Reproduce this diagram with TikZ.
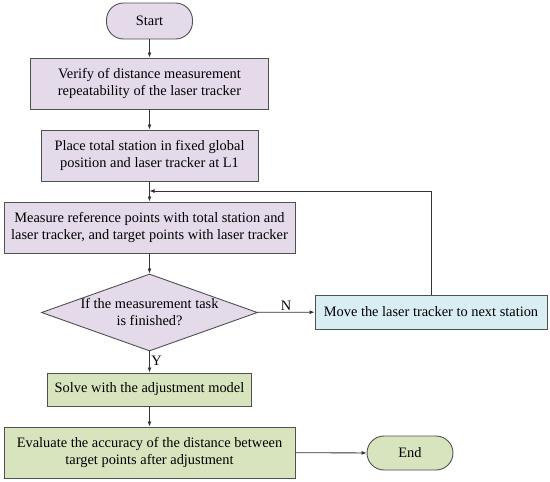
\documentclass[tikz,border=0pt]{standalone}
\usepackage{fontspec}
\setmainfont{Liberation Serif}
\usepackage{tikz}
\usetikzlibrary{arrows.meta,positioning,shapes.geometric}
\definecolor{Lilac}{HTML}{E4DAEA}
\definecolor{Ice}{HTML}{D8EEF3}
\definecolor{Sage}{HTML}{D8E4BE}
\definecolor{Edge}{HTML}{505050}
\definecolor{Wire}{HTML}{333333}
\tikzset{
  procbox/.style={draw=Edge,line width=0.9pt,fill=#1,align=center,inner sep=0pt,
        font=\fontsize{14.4}{17}\selectfont},
  termbox/.style={procbox=#1,rounded corners=17pt},
  decision/.style={procbox=Lilac,diamond,aspect=2.8,inner sep=-8pt},
  flow/.style={draw=Wire,line width=0.8pt,-{Latex[length=5pt,width=4pt]}},
  tag/.style={font=\fontsize{14.4}{17}\selectfont,inner sep=1.5pt}
}
\begin{document}
\begin{tikzpicture}[x=1pt,y=-1pt]
    \useasboundingbox (0,0) rectangle (550,482);
    \node[termbox=Lilac,minimum width=86pt,minimum height=36pt] (start) at (149.5,21) {Start};
    \node[procbox=Lilac,minimum width=238pt,minimum height=51pt] (verify) at (149.5,83.5)
      {Verify of distance measurement\\repeatability of the laser tracker};
    \node[procbox=Lilac,minimum width=217pt,minimum height=51pt] (place) at (149.5,155.5)
      {Place total station in fixed global\\position and laser tracker at L1};
    \node[procbox=Lilac,minimum width=291pt,minimum height=51pt] (measure) at (149.5,227.5)
      {Measure reference points with total station and\\laser tracker, and target points with laser tracker};
    \node[decision,minimum width=216pt,minimum height=77pt] (finished) at (149.5,312.5)
      {If the measurement task\\is finished?};
    \node[procbox=Ice,minimum width=232pt,minimum height=34pt] (move) at (431,312)
      {Move the laser tracker to next station};
    \node[procbox=Sage,minimum width=204pt,minimum height=33pt] (solve) at (149.5,389.5)
      {Solve with the adjustment model};
    \node[procbox=Sage,minimum width=291pt,minimum height=51pt] (evaluate) at (149.5,452.5)
      {Evaluate the accuracy of the distance between\\target points after adjustment};
    \node[termbox=Sage,minimum width=86pt,minimum height=34pt] (end) at (410,453) {End};
    \coordinate (loop) at (149.5,191);
    % main column
    \foreach \a/\b in {start/verify,verify/place,measure/finished,solve/evaluate}
      \draw[flow] (\a) -- (\b);
    \draw[flow] (place) -- (measure);
    \draw[flow] (finished) -- node[tag,right,pos=0.45]{Y} (solve);
    \draw[flow] (finished) -- node[tag,above,pos=0.5]{N} (move);
    \draw[flow] (evaluate) -- (end);
    % back to next station
    \draw[flow] (move.north) |- (loop);
  \end{tikzpicture}
\end{document}
